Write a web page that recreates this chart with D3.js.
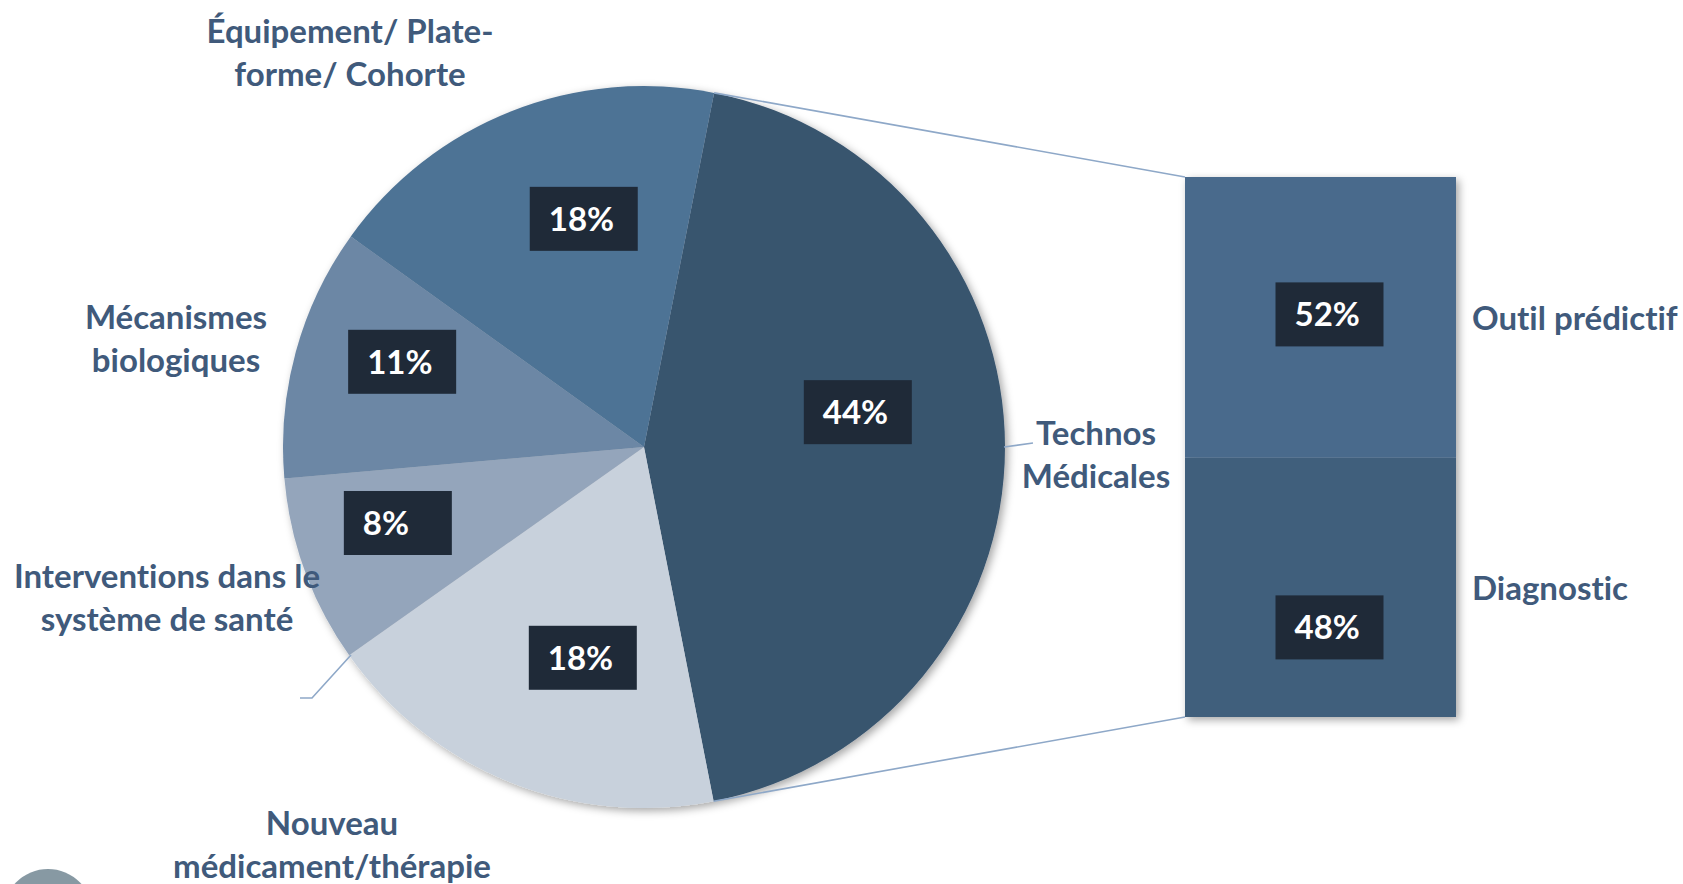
<!DOCTYPE html>
<html><head><meta charset="utf-8">
<script src="https://cdn.jsdelivr.net/npm/d3@7"></script>
<style>
html,body{margin:0;padding:0;background:#fff;}
svg{display:block;font-family:Lato,"Open Sans",sans-serif;font-weight:700;font-variant-ligatures:none;font-feature-settings:"liga" 0,"dlig" 0;}
</style></head>
<body><svg id="chart" width="1683" height="884"></svg>
<script>
// ---- data ----
const categories = ["Technos Médicales","Nouveau médicament/thérapie","Interventions dans le système de santé","Mécanismes biologiques","Équipement/ Plate-forme/ Cohorte"];
const categoryLines = [["Technos","Médicales"],["Nouveau","médicament/thérapie"],["Interventions dans le","système de santé"],["Mécanismes","biologiques"],["Équipement/ Plate-","forme/ Cohorte"]];
const values = [43.8, 18.3, 8.4, 11.3, 18.2];
const percentLabels = ["44%","18%","8%","11%","18%"];
const subCategories = ["Diagnostic","Outil prédictif"];
const subValues = [48, 52];
const subLabels = ["48%","52%"];

// ---- layout / style ----
const W = 1683, H = 884;
const cx = 644, cy = 447, R = 361;
const startOffset = 11.2 * Math.PI / 180;
const pieColors = ["#38546e","#c8d1dc","#94a5bb","#6c87a5","#4e7395"];
const barColors = ["#415f7c","#4a6a8c"];
const boxColor = "#1f2a38";
const textColor = "#405a7b";
const lineColor = "#8ea8c8";
const labelNudge = [[-10,-35],[22,3],[-36,-1],[-26,-26],[22,-20]];
const barNudge = [[9,40],[9,-3]];
const catPos = [[1096,433],[332,823],[167,576],[176,317],[350,31]];
const bar = {x0:1185, x1:1456, top:177, bottom:717};
const fs = 33, lh = 43;
const boxW = 108, boxH = 64;

const svg = d3.select("#chart");
const defs = svg.append("defs");
const f = defs.append("filter").attr("id","shadow").attr("x","-10%").attr("y","-10%").attr("width","130%").attr("height","130%");
f.append("feDropShadow").attr("dx",3).attr("dy",3).attr("stdDeviation",4).attr("flood-color","#000").attr("flood-opacity",0.35);

// decorative circle bottom-left
svg.append("circle").attr("cx",48).attr("cy",914).attr("r",45).attr("fill","#8799a3");

// ---- pie ----
const pie = d3.pie().sort(null).value(d=>d).startAngle(startOffset).endAngle(startOffset + 2*Math.PI);
const arcs = pie(values);
const arc = d3.arc().innerRadius(0).outerRadius(R);
const g = svg.append("g").attr("transform",`translate(${cx},${cy})`);
g.append("g").attr("filter","url(#shadow)").selectAll("path").data(arcs).join("path")
  .attr("d",arc).attr("fill",(d,i)=>pieColors[i]);

// ---- bar (stacked) ----
const y = d3.scaleLinear().domain([0, d3.sum(subValues)]).range([bar.bottom, bar.top]);
const x = d3.scaleBand().domain(["Technos"]).range([bar.x0, bar.x1]).padding(0);
let acc = 0;
const stacks = subValues.map((v,i)=>{const s={i, y0:acc, y1:acc+v}; acc+=v; return s;});
svg.append("g").attr("filter","url(#shadow)").selectAll("rect").data(stacks).join("rect")
  .attr("x",x("Technos")).attr("width",x.bandwidth())
  .attr("y",d=>y(d.y1)).attr("height",d=>y(d.y0)-y(d.y1))
  .attr("fill",d=>barColors[d.i]);

// connector lines
const a0 = arcs[0].startAngle, a1 = arcs[0].endAngle;
const pt = a => [cx + R*Math.sin(a), cy - R*Math.cos(a)];
svg.append("line").attr("x1",pt(a0)[0]).attr("y1",pt(a0)[1]).attr("x2",bar.x0).attr("y2",y(d3.sum(subValues)))
  .attr("stroke",lineColor).attr("stroke-width",1.6);
svg.append("line").attr("x1",pt(a1)[0]).attr("y1",pt(a1)[1]).attr("x2",bar.x0).attr("y2",y(0))
  .attr("stroke",lineColor).attr("stroke-width",1.6);

// leader lines
svg.append("polyline").attr("points",[[1004,447],[1033,443]].join(" ")).attr("fill","none").attr("stroke",lineColor).attr("stroke-width",1.6);
svg.append("polyline").attr("points",[[351,655],[312,698],[300,698]].join(" ")).attr("fill","none").attr("stroke",lineColor).attr("stroke-width",1.6);

// pie value boxes
const lblArc = d3.arc().innerRadius(R*0.62).outerRadius(R*0.62);
arcs.forEach((d,i)=>{
  const c = lblArc.centroid(d);
  const bx = cx + c[0] + labelNudge[i][0], by = cy + c[1] + labelNudge[i][1];
  svg.append("rect").attr("x",bx-boxW/2).attr("y",by-boxH/2).attr("width",boxW).attr("height",boxH).attr("fill",boxColor);
  svg.append("text").attr("x",bx-boxW/2+19).attr("y",by).attr("dy","0.36em").attr("fill","#fff")
    .attr("font-size",fs).text(percentLabels[i]);
});

// bar value boxes
stacks.forEach((s,i)=>{
  const bx = x("Technos") + x.bandwidth()/2 + barNudge[i][0], by = y((s.y0+s.y1)/2) + barNudge[i][1];
  svg.append("rect").attr("x",bx-boxW/2).attr("y",by-boxH/2).attr("width",boxW).attr("height",boxH).attr("fill",boxColor);
  svg.append("text").attr("x",bx-boxW/2+19).attr("y",by).attr("dy","0.36em").attr("fill","#fff")
    .attr("font-size",fs).text(subLabels[i]);
});

// category labels
categoryLines.forEach((lines,i)=>{
  const t = svg.append("text").attr("text-anchor","middle").attr("fill",textColor).attr("font-size",fs);
  lines.forEach((ln,j)=>t.append("tspan").attr("x",catPos[i][0]).attr("y",catPos[i][1]+j*lh).attr("dy","0.36em").text(ln));
});
// bar category labels
const subPos = [[1472,588],[1472,318]];
subCategories.forEach((c,i)=>{
  svg.append("text").attr("x",subPos[i][0]).attr("y",subPos[i][1]).attr("dy","0.36em").attr("fill",textColor).attr("font-size",fs).text(c);
});
</script></body></html>
